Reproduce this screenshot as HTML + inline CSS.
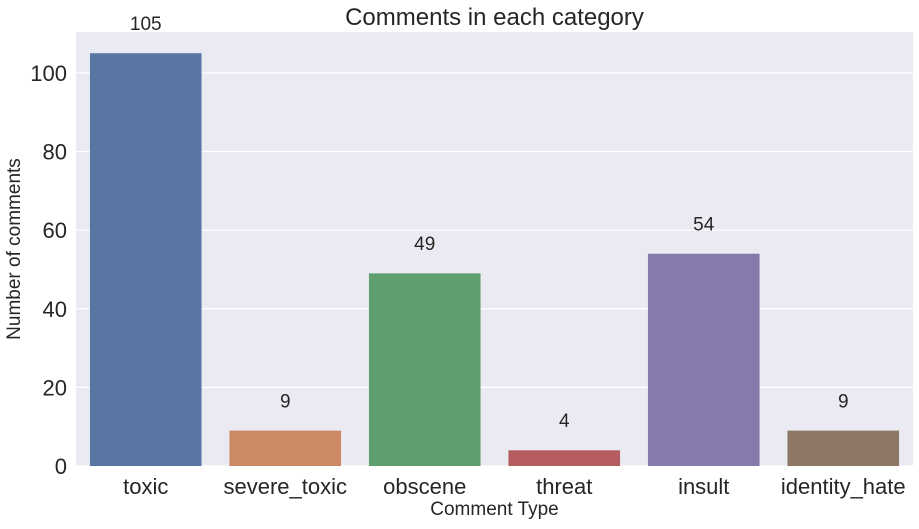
<!DOCTYPE html>
<html><head><meta charset="utf-8"><style>
body{margin:0;background:#fff;}
svg text{font-family:"Liberation Sans",Arial,sans-serif;fill:#262626;}
</style></head><body>
<svg id="chart" width="919" height="524"></svg>
<script>
const categories=["toxic","severe_toxic","obscene","threat","insult","identity_hate"];
const values=[105,9,49,4,54,9];
const yTicks=[0,20,40,60,80,100];
const colors=["#5975a4","#cc8963","#5f9e6e","#b55d60","#857aab","#8d7866"];
const L=76,R=913,T=32,B=466,yMax=110.4;
const ns="http://www.w3.org/2000/svg";
const svg=document.getElementById('chart');
function y(v){return B-(v/yMax)*(B-T);}
const band=(R-L)/categories.length;
function x(i){return L+band*(i+0.5);}
function mk(t,a,p){const e=document.createElementNS(ns,t);for(const k in a)e.setAttribute(k,a[k]);(p||svg).appendChild(e);return e;}
const bg=mk('rect',{x:L,y:T,width:R-L,height:B-T,fill:'#eaeaf2'});


yTicks.forEach(t=>{
 const g=mk('line',{x1:L,x2:R,y1:y(t),y2:y(t),stroke:'#fff','stroke-width':1.2});
 
 
 const tx=mk('text',{x:L-9,y:y(t)+8,'text-anchor':'end','font-size':22});
 tx.textContent=t;
 
 
});
categories.forEach((c,i)=>{
 const w=band*0.8;
 const r=mk('rect',{x:x(i)-w/2,y:y(values[i]),width:w,height:B-y(values[i]),fill:colors[i]});
 
 
 const v=mk('text',{x:x(i),y:y(values[i]+7.7)+7,'text-anchor':'middle','font-size':19});
 v.textContent=values[i];
 
 
 const t=mk('text',{x:x(i),y:B+28,'text-anchor':'middle','font-size':22});
 t.textContent=c;
 
 
});
const ti=mk('text',{x:(L+R)/2,y:25,'text-anchor':'middle','font-size':24});
ti.textContent='Comments in each category';


const xl=mk('text',{x:(L+R)/2,y:515,'text-anchor':'middle','font-size':19});
xl.textContent='Comment Type';


const yl=mk('text',{x:20,y:(T+B)/2,'text-anchor':'middle','font-size':19,transform:'rotate(-90 20 '+((T+B)/2)+')'});
yl.textContent='Number of comments';


</script>
</body></html>
